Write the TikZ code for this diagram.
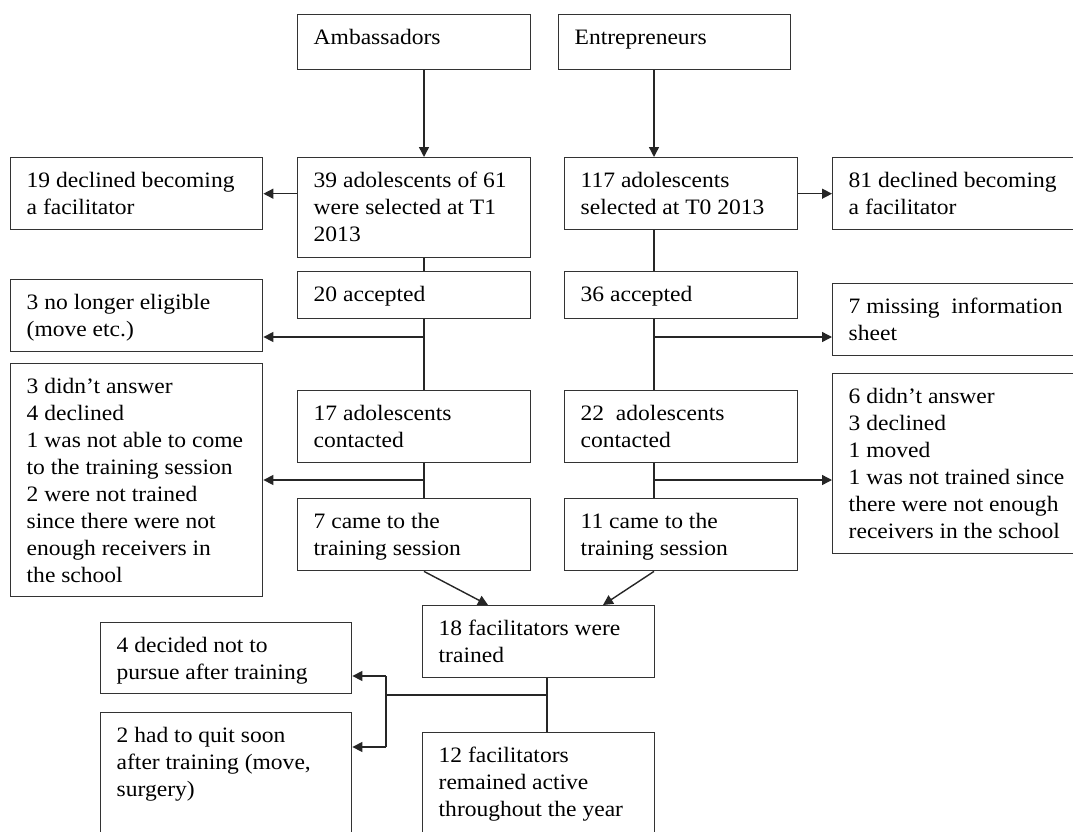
\documentclass[tikz,border=0pt]{standalone}
\usepackage{fontspec}
\setmainfont{Liberation Serif}[FakeStretch=1.07]
\usetikzlibrary{arrows.meta}
\newcommand{\bt}[3]{\parbox[t][#2pt][t]{#1pt}{\raggedright\setlength{\leftskip}{16pt}\rule{0pt}{30pt}#3}}
\tikzset{
  bx/.style={draw=black!80, line width=1.4pt, anchor=north west, inner sep=0pt,
    font=\fontsize{22pt}{27pt}\selectfont},
  ln/.style={draw=black!85, line width=1.4pt},
  arr/.style={ln, -{Triangle[length=10pt,width=10pt]}}
}
\begin{document}
\begin{tikzpicture}[x=1pt,y=-1pt]
\useasboundingbox (0,0) rectangle (1073,832);
\clip (0,0) rectangle (1073,832);
\fill[white] (0,0) rectangle (1073,832);
% boxes
\node[bx] (amb)    at (297,14)  {\bt{233}{55}{Ambassadors}};
\node[bx] (ent)    at (558,14)  {\bt{232}{55}{Entrepreneurs}};
\node[bx] (sel39)  at (297,157) {\bt{233}{100}{39 adolescents of 61\\were selected at T1\\2013}};
\node[bx] (dec19)  at (10,157)  {\bt{252}{72}{19 declined becoming\\a facilitator}};
\node[bx] (sel117) at (564,157) {\bt{233}{72}{117 adolescents\\selected at T0 2013}};
\node[bx] (dec81)  at (832,157) {\bt{260}{72}{81 declined becoming\\a facilitator}};
\node[bx] (acc20)  at (297,271) {\bt{233}{47}{20 accepted}};
\node[bx] (acc36)  at (564,271) {\bt{233}{47}{36 accepted}};
\node[bx] (noelig) at (10,279)  {\bt{252}{72}{3 no longer eligible\\(move etc.)}};
\node[bx] (miss7)  at (832,283) {\bt{260}{72}{7 missing~ information\\sheet}};
\node[bx] (dna3)   at (10,363)  {\bt{252}{233}{3 didn’t answer\\4 declined\\1 was not able to come\\to the training session\\2 were not trained\\since there were not\\enough receivers in\\the school}};
\node[bx] (con17)  at (297,390) {\bt{233}{72}{17 adolescents\\contacted}};
\node[bx] (con22)  at (564,390) {\bt{233}{72}{22~ adolescents\\contacted}};
\node[bx] (dna6)   at (832,373) {\bt{260}{180}{6 didn’t answer\\3 declined\\1 moved\\1 was not trained since\\there were not enough\\receivers in the school}};
\node[bx] (came7)  at (297,498) {\bt{233}{72}{7 came to the\\training session}};
\node[bx] (came11) at (564,498) {\bt{233}{72}{11 came to the\\training session}};
\node[bx] (fac18)  at (422,605) {\bt{232}{72}{18 facilitators were\\trained}};
\node[bx] (dec4)   at (100,622) {\bt{251}{71}{4 decided not to\\pursue after training}};
\node[bx] (quit2)  at (100,712) {\bt{251}{130}{2 had to quit soon\\after training (move,\\surgery)}};
\node[bx] (rem12)  at (422,732) {\bt{232}{110}{12 facilitators\\remained active\\throughout the year}};
% trunk coordinates
\coordinate (L) at (424,0);
\coordinate (R) at (654,0);
\coordinate (M) at (547,0);
\coordinate (FA) at (488,0);
\coordinate (FB) at (603,0);
\coordinate (bL1) at (424,337);
\coordinate (bR1) at (654,337);
\coordinate (bL2) at (424,480);
\coordinate (bR2) at (654,480);
\coordinate (J) at (386,695);
\coordinate (J1) at (386,676);
\coordinate (J2) at (386,747);
% connectors
\draw[arr] (amb.south -| L) -- (sel39.north -| L);
\draw[arr] (ent.south -| R) -- (sel117.north -| R);
\draw[arr] (dec19.east -| sel39.west) -- (dec19.east);
\draw[arr] (sel117.east) -- (dec81.west);
\draw[ln] (sel39.south -| L) -- (acc20.north -| L);
\draw[ln] (sel117.south -| R) -- (acc36.north -| R);
\draw[ln] (acc20.south -| L) -- (con17.north -| L);
\draw[ln] (acc36.south -| R) -- (con22.north -| R);
\draw[arr] (bL1) -- (bL1 -| noelig.east);
\draw[arr] (bR1) -- (bR1 -| miss7.west);
\draw[ln] (con17.south -| L) -- (came7.north -| L);
\draw[ln] (con22.south -| R) -- (came11.north -| R);
\draw[arr] (bL2) -- (bL2 -| dna3.east);
\draw[arr] (bR2) -- (bR2 -| dna6.west);
\draw[arr] (came7.south -| L) -- (fac18.north -| FA);
\draw[arr] (came11.south -| R) -- (fac18.north -| FB);
\draw[ln] (fac18.south -| M) -- (rem12.north -| M);
\draw[ln] (J) -- (J -| M);
\draw[ln] (J1) -- (J2);
\draw[arr] (J1) -- (J1 -| dec4.east);
\draw[arr] (J2) -- (J2 -| quit2.east);
\end{tikzpicture}
\end{document}
